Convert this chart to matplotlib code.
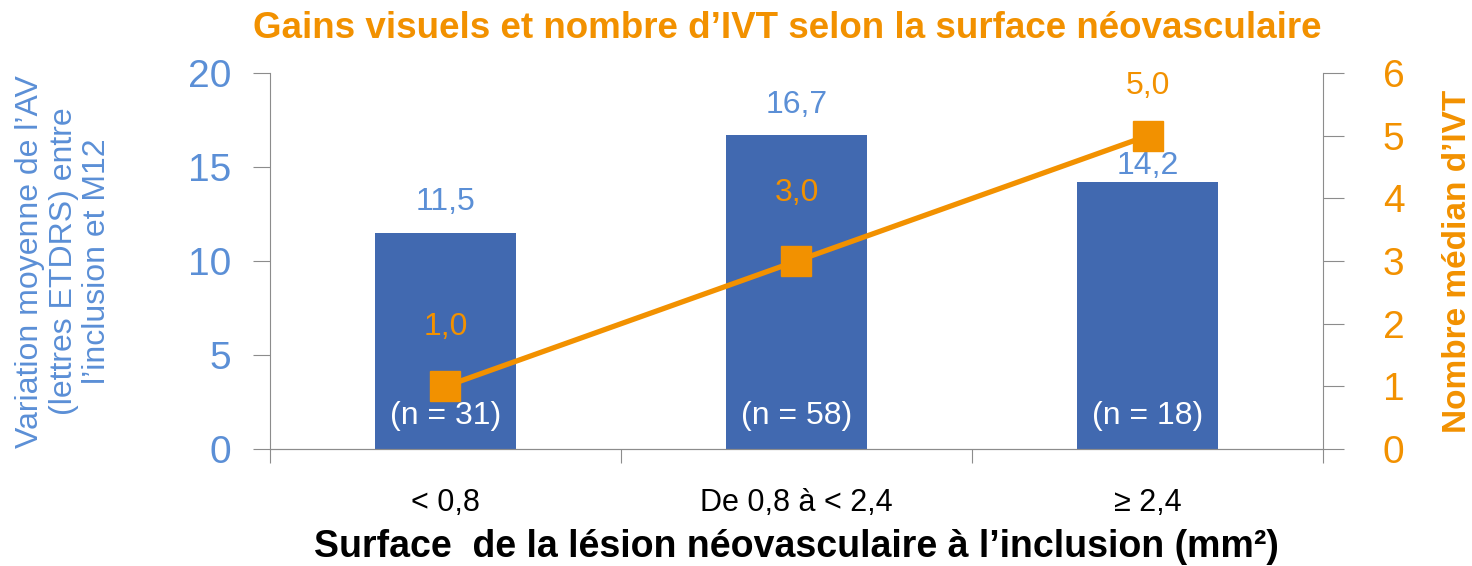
import matplotlib.pyplot as plt

# données
categories = ['< 0,8', 'De 0,8 à < 2,4', '≥ 2,4']
gain_av = [11.5, 16.7, 14.2]
nb_ivt = [1.0, 3.0, 5.0]
effectifs = ['(n = 31)', '(n = 58)', '(n = 18)']

bleu = '#4169B0'
bleu_txt = '#5B8FD6'
orange = '#F29100'
gris = '#8C8C8C'

plt.rcParams['font.family'] = ['Liberation Sans', 'DejaVu Sans']

fig = plt.figure(figsize=(14.72, 5.66), dpi=100)
ax = fig.add_axes([0.1834, 0.2067, 0.7154, 0.664])
ax2 = ax.twinx()

x = list(range(len(categories)))
ax.bar(x, gain_av, width=0.4, color=bleu, zorder=2)
ax.set_xlim(-0.5, 2.5)
ax.set_ylim(0, 20)
ax.set_yticks([0, 5, 10, 15, 20])
ax.tick_params(axis='y', colors=gris, labelcolor=bleu_txt, labelsize=28, length=12, pad=16)

# étiquettes des barres
decal = [22, 22, 12]
for i, v in enumerate(gain_av):
    ax.annotate(('%.1f' % v).replace('.', ','), (x[i], v), xytext=(0, decal[i]),
                textcoords='offset points', ha='center', va='center', fontsize=23, color=bleu_txt)
    ax.text(x[i], 1.75, effectifs[i], ha='center', va='center', fontsize=23, color='white', zorder=3)

# axe x : graduations entre les catégories
ax.set_xticks([-0.5, 0.5, 1.5, 2.5])
ax.set_xticklabels([])
ax.set_xticks(x, minor=True)
ax.set_xticklabels(categories, minor=True, fontsize=22)
ax.tick_params(axis='x', which='major', colors=gris, length=10)
ax.tick_params(axis='x', which='minor', length=0, pad=28)
ax.set_xlabel('Surface  de la lésion néovasculaire à l’inclusion (mm²)', fontsize=27,
              fontweight='bold', labelpad=8)

ax.set_ylabel('Variation moyenne de l’AV\n(lettres ETDRS) entre\nl’inclusion et M12',
              fontsize=23, color=bleu_txt, linespacing=1.15)
ax.yaxis.set_label_coords(-0.150, 0.5)

# courbe IVT
ax2.plot(x, nb_ivt, color=orange, linewidth=3.8, marker='s', markersize=22, zorder=4)
ax2.set_ylim(0, 6)
ax2.set_yticks(range(7))
ax2.tick_params(axis='y', colors=gris, labelcolor=orange, labelsize=28, length=15, pad=28)
decal2 = [43, 49, 36]
for i, v in enumerate(nb_ivt):
    ax2.annotate(('%.1f' % v).replace('.', ','), (x[i], v), xytext=(0, decal2[i]),
                 textcoords='offset points', ha='center', va='center', fontsize=23, color=orange)
ax2.set_ylabel('Nombre médian d’IVT', fontsize=24, fontweight='bold', color=orange)
ax2.yaxis.set_label_coords(1.113, 0.5)

for a in (ax, ax2):
    a.spines['top'].set_visible(False)
    a.spines['left'].set_color(gris)
    a.spines['right'].set_color(gris)
    a.spines['bottom'].set_color(gris)
ax2.spines['left'].set_visible(False)
ax.spines['right'].set_visible(False)

fig.suptitle('Gains visuels et nombre d’IVT selon la surface néovasculaire', x=0.535, y=0.98,
             fontsize=26.5, fontweight='bold', color=orange)

fig.savefig('out.png', dpi=100)
